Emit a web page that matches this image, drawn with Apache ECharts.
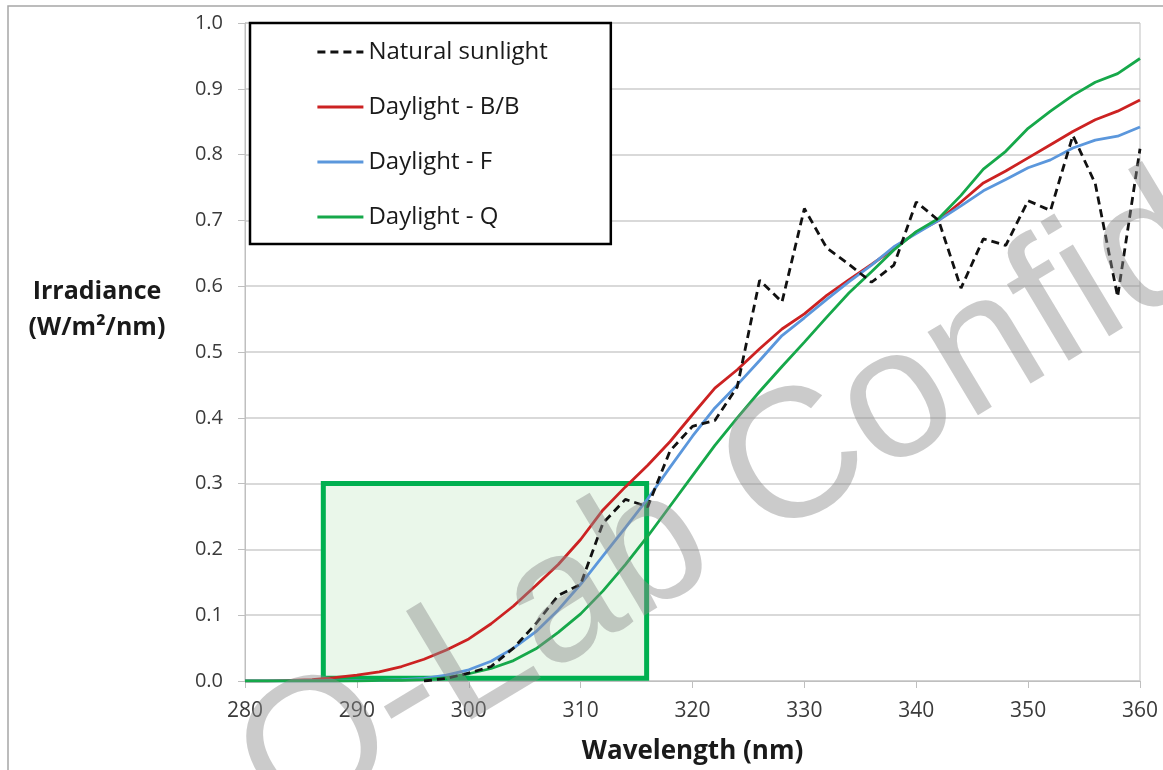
<!DOCTYPE html>
<html>
<head>
<meta charset="utf-8">
<script src="https://cdn.jsdelivr.net/npm/echarts@6/dist/echarts.min.js"></script>
<style>
  html, body { margin: 0; padding: 0; background: #ffffff; }
  #chart { width: 1163px; height: 770px; }
</style>
</head>
<body>
<div id="chart"></div>
<script>
// Wavelength (nm), 2 nm steps
const wavelengths = [280,282,284,286,288,290,292,294,296,298,300,302,304,306,308,310,312,314,316,318,320,322,324,326,328,330,332,334,336,338,340,342,344,346,348,350,352,354,356,358,360];

const naturalSunlight = [null,null,null,null,null,null,null,null,0.000,0.004,0.012,0.022,0.050,0.087,0.130,0.147,0.240,0.276,0.265,0.350,0.387,0.396,0.447,0.609,0.576,0.718,0.658,0.633,0.606,0.632,0.728,0.700,0.597,0.672,0.662,0.730,0.715,0.829,0.756,0.584,0.809];

const daylightBB = [0.000,0.000,0.001,0.002,0.005,0.009,0.014,0.022,0.033,0.047,0.064,0.087,0.114,0.145,0.177,0.215,0.260,0.295,0.328,0.364,0.405,0.445,0.473,0.505,0.535,0.558,0.586,0.610,0.633,0.657,0.682,0.700,0.728,0.757,0.775,0.795,0.815,0.835,0.853,0.866,0.883];

const daylightF = [0.000,0.000,0.000,0.000,0.000,0.001,0.001,0.002,0.004,0.009,0.017,0.030,0.050,0.075,0.108,0.147,0.190,0.233,0.277,0.325,0.372,0.415,0.450,0.487,0.525,0.552,0.580,0.607,0.632,0.660,0.680,0.700,0.722,0.745,0.762,0.780,0.792,0.810,0.822,0.828,0.842];

const daylightQ = [0.000,0.000,0.000,0.000,0.000,0.000,0.001,0.001,0.002,0.005,0.011,0.019,0.031,0.049,0.074,0.102,0.137,0.177,0.220,0.266,0.312,0.358,0.400,0.440,0.478,0.515,0.553,0.590,0.622,0.655,0.683,0.703,0.738,0.778,0.805,0.840,0.866,0.890,0.910,0.923,0.946];

const seriesNames = ['Natural sunlight', 'Daylight - B/B', 'Daylight - F', 'Daylight - Q'];
const yTicks = ['0.0','0.1','0.2','0.3','0.4','0.5','0.6','0.7','0.8','0.9','1.0'];
const highlightBox = [[287.0, 0.004], [315.9, 0.300]];
const yTitle = 'Irradiance\n(W/m²/nm)';
const xTitle = 'Wavelength (nm)';
const watermark = 'Q-Lab Confidential';

function pairs(vals) {
  const out = [];
  for (let i = 0; i < wavelengths.length; i++) {
    if (vals[i] !== null) out.push([wavelengths[i], vals[i]]);
  }
  return out;
}

const FONT = 'Open Sans';
const chart = echarts.init(document.getElementById('chart'), null, { renderer: 'canvas' });

const option = {
  backgroundColor: '#ffffff',
  animation: false,
  grid: { left: 245, right: 23, top: 23, bottom: 89, show: true, borderColor: '#bfbfbf', borderWidth: 1, backgroundColor: 'transparent' },
  legend: {
    orient: 'vertical',
    left: 250, top: 23,
    padding: [17, 63, 15, 66],
    itemGap: 31,
    itemWidth: 46, itemHeight: 20,
    backgroundColor: '#ffffff',
    borderColor: '#000000', borderWidth: 2.5, borderRadius: 0,
    data: seriesNames,
    itemStyle: { opacity: 0, borderWidth: 0 },
    lineStyle: { width: 2.8 },
    textStyle: { fontFamily: FONT, fontSize: 24, color: '#1a1a1a', lineHeight: 24 },
    z: 20
  },
  xAxis: {
    type: 'value', min: 280, max: 360, interval: 10,
    name: xTitle, nameLocation: 'middle', nameGap: 58,
    nameTextStyle: { fontFamily: FONT, fontSize: 26, fontWeight: 'bold', color: '#1a1a1a' },
    axisLine: { show: true, lineStyle: { color: '#bfbfbf', width: 1 } },
    axisTick: { show: true, length: 7, lineStyle: { color: '#bfbfbf' } },
    axisLabel: { fontFamily: FONT, fontSize: 21, color: '#3a3a3a', margin: 20 },
    splitLine: { show: false }
  },
  yAxis: {
    type: 'value', min: 0, max: 1, interval: 0.1,
    axisLine: { show: true, lineStyle: { color: '#bfbfbf', width: 1 } },
    axisTick: { show: true, length: 7, lineStyle: { color: '#bfbfbf' } },
    axisLabel: { fontFamily: FONT, fontSize: 20, color: '#3a3a3a', margin: 22,
      formatter: function (v) { return yTicks[Math.round(v * 10)]; } },
    splitLine: { show: true, lineStyle: { color: '#cdcdcd', width: 1.6 } }
  },
  series: [
    {
      name: seriesNames[1], type: 'line', data: pairs(daylightBB), symbol: 'none', z: 3,
      lineStyle: { color: '#cc2222', width: 2.8 }, itemStyle: { color: '#cc2222' },
      markArea: {
        silent: true, z: 1,
        itemStyle: { color: '#eaf7ea', borderColor: '#00b050', borderWidth: 5 },
        data: [[{ coord: highlightBox[0] }, { coord: highlightBox[1] }]]
      }
    },
    {
      name: seriesNames[2], type: 'line', data: pairs(daylightF), symbol: 'none', z: 3,
      lineStyle: { color: '#5b97dc', width: 2.8 }, itemStyle: { color: '#5b97dc' }
    },
    {
      name: seriesNames[3], type: 'line', data: pairs(daylightQ), symbol: 'none', z: 3,
      lineStyle: { color: '#16a84a', width: 2.8 }, itemStyle: { color: '#16a84a' }
    },
    {
      name: seriesNames[0], type: 'line', data: pairs(naturalSunlight), symbol: 'none', z: 4,
      lineStyle: { color: '#111111', width: 2.8, type: [8, 5] }, itemStyle: { color: '#111111' }
    }
  ],
  graphic: [
    {
      type: 'rect', silent: true, z: 0,
      shape: { x: 8, y: 6, width: 1400, height: 1000 },
      style: { fill: 'none', stroke: '#a6a6a6', lineWidth: 1.5 }
    },
    {
      type: 'text', silent: true, z: 10,
      x: 97, y: 310,
      style: { text: yTitle, fontFamily: FONT, fontSize: 25, fontWeight: 'bold', fill: '#1a1a1a',
        textAlign: 'center', textVerticalAlign: 'middle', lineHeight: 36 }
    },
    {
      type: 'text', silent: true, z: 100,
      x: 257, y: 789, rotation: 31 * Math.PI / 180,
      style: { text: watermark, fontFamily: 'Liberation Sans', fontSize: 184, fill: 'rgba(140,140,140,0.45)',
        textAlign: 'left', textVerticalAlign: 'middle' }
    }
  ]
};
chart.setOption(option);
</script>
</body>
</html>
